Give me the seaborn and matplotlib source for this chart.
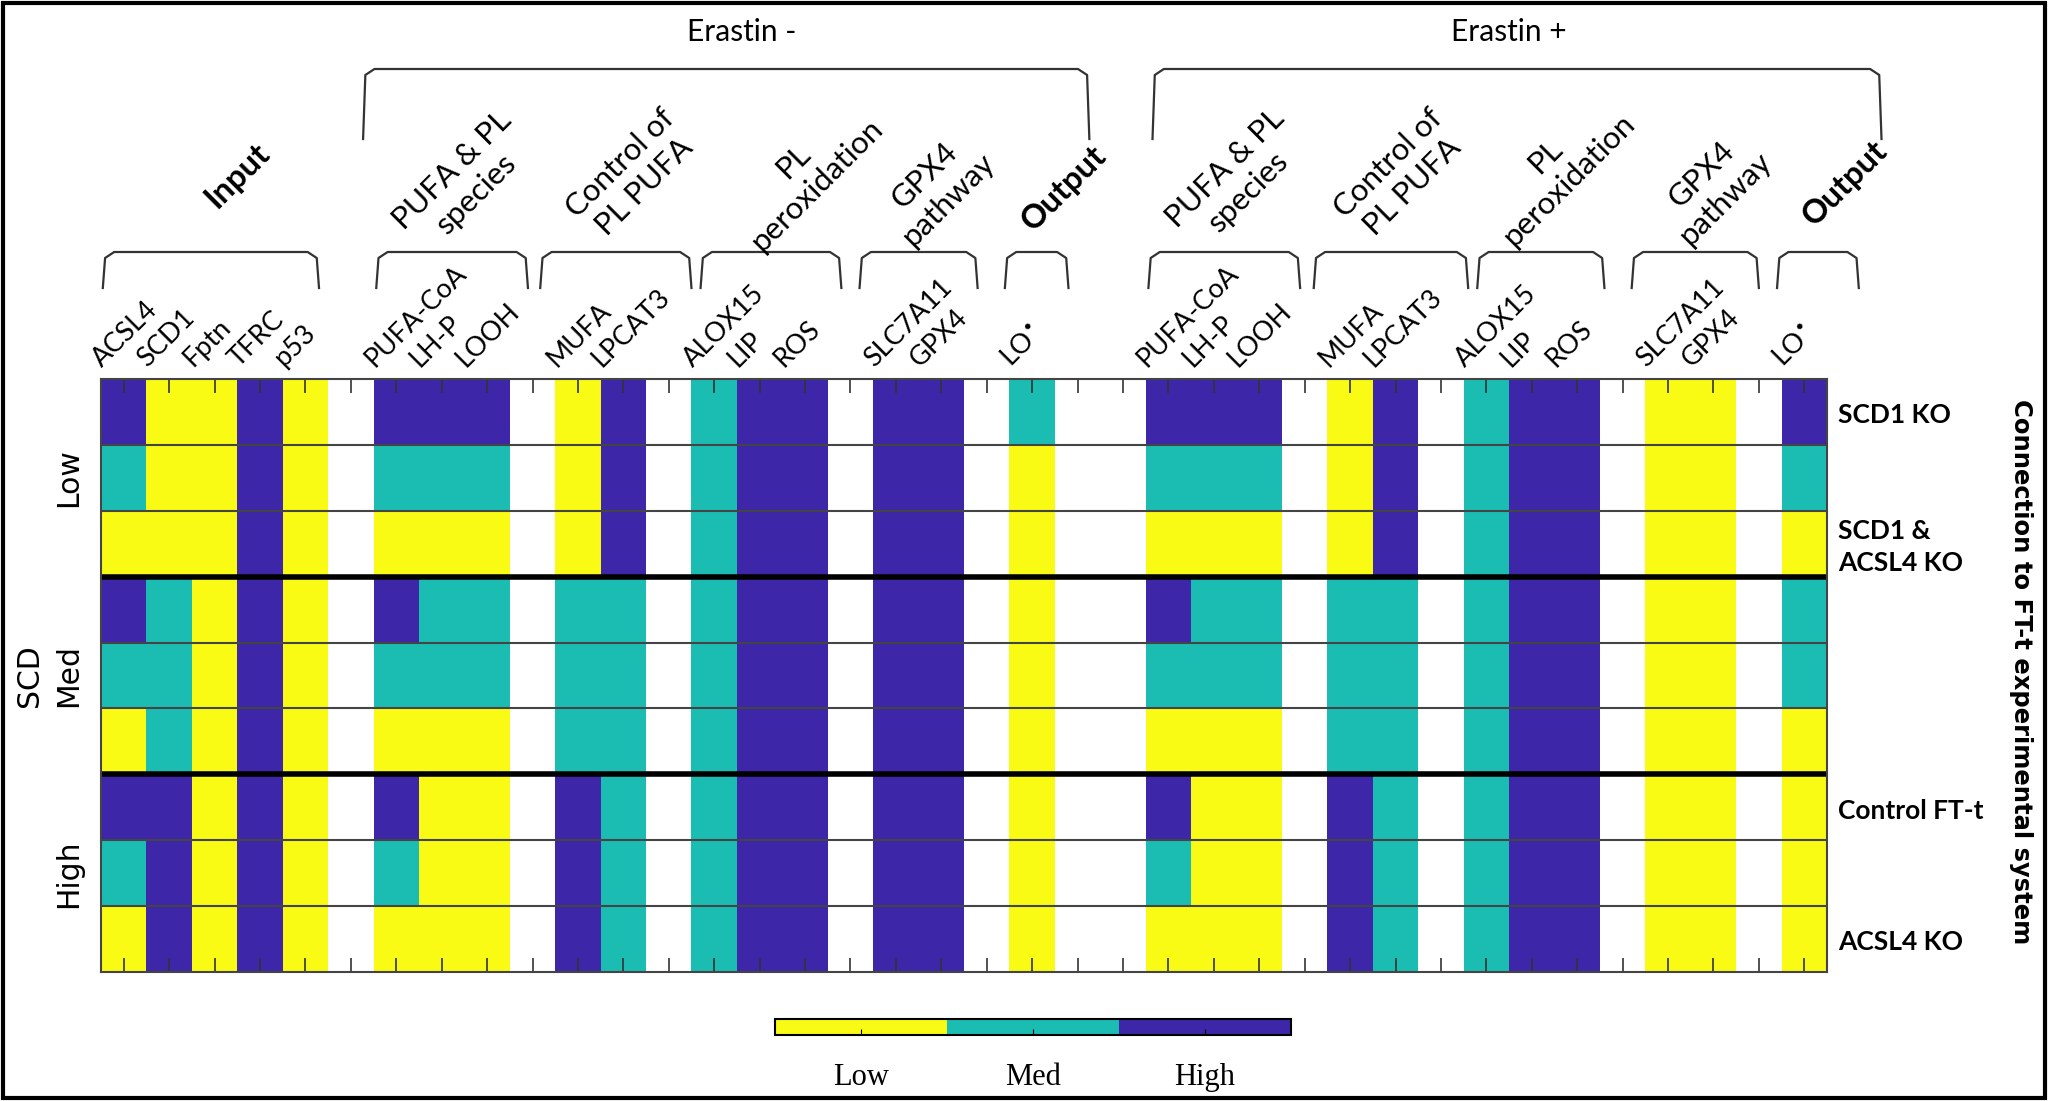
# ferroptosis_heatmap.py
# Model states per SCD level, with and without erastin, drawn as a discrete heatmap

import numpy as np
import pandas as pd
import matplotlib
matplotlib.use('Agg')
import matplotlib.pyplot as plt
import seaborn as sns
from matplotlib.colors import ListedColormap
from matplotlib.patches import Rectangle
from matplotlib.transforms import blended_transform_factory

# levels
L, M, H = 0, 1, 2
BLANK = [None] * 9

# rows: SCD Low x3, Med x3, High x3
acsl4 = [H, M, L, H, M, L, H, M, L]
scd1 = [L, L, L, M, M, M, H, H, H]
fptn = [L, L, L, L, L, L, L, L, L]
tfrc = [H, H, H, H, H, H, H, H, H]
p53 = [L, L, L, L, L, L, L, L, L]

# Erastin -
pufa_coa_minus = [H, M, L, H, M, L, H, M, L]
lhp_minus = [H, M, L, M, M, L, L, L, L]
looh_minus = [H, M, L, M, M, L, L, L, L]
mufa_minus = [L, L, L, M, M, M, H, H, H]
lpcat3_minus = [H, H, H, M, M, M, M, M, M]
alox15_minus = [M, M, M, M, M, M, M, M, M]
lip_minus = [H, H, H, H, H, H, H, H, H]
ros_minus = [H, H, H, H, H, H, H, H, H]
slc7a11_minus = [H, H, H, H, H, H, H, H, H]
gpx4_minus = [H, H, H, H, H, H, H, H, H]
lo_minus = [M, L, L, L, L, L, L, L, L]

# Erastin +
pufa_coa_plus = [H, M, L, H, M, L, H, M, L]
lhp_plus = [H, M, L, M, M, L, L, L, L]
looh_plus = [H, M, L, M, M, L, L, L, L]
mufa_plus = [L, L, L, M, M, M, H, H, H]
lpcat3_plus = [H, H, H, M, M, M, M, M, M]
alox15_plus = [M, M, M, M, M, M, M, M, M]
lip_plus = [H, H, H, H, H, H, H, H, H]
ros_plus = [H, H, H, H, H, H, H, H, H]
slc7a11_plus = [L, L, L, L, L, L, L, L, L]
gpx4_plus = [L, L, L, L, L, L, L, L, L]
lo_plus = [H, M, L, M, M, L, L, L, L]

LO = "LO$^{\\bullet}$"
col_labels = ["ACSL4", "SCD1", "Fptn", "TFRC", "p53", "",
              "PUFA-CoA", "LH-P", "LOOH", "", "MUFA", "LPCAT3", "",
              "ALOX15", "LIP", "ROS", "", "SLC7A11", "GPX4", "", LO, "", "",
              "PUFA-CoA", "LH-P", "LOOH", "", "MUFA", "LPCAT3", "",
              "ALOX15", "LIP", "ROS", "", "SLC7A11", "GPX4", "", LO]
col_values = [acsl4, scd1, fptn, tfrc, p53, BLANK,
              pufa_coa_minus, lhp_minus, looh_minus, BLANK, mufa_minus, lpcat3_minus, BLANK,
              alox15_minus, lip_minus, ros_minus, BLANK, slc7a11_minus, gpx4_minus, BLANK,
              lo_minus, BLANK, BLANK,
              pufa_coa_plus, lhp_plus, looh_plus, BLANK, mufa_plus, lpcat3_plus, BLANK,
              alox15_plus, lip_plus, ros_plus, BLANK, slc7a11_plus, gpx4_plus, BLANK, lo_plus]

scd_levels = ["Low", "Med", "High"]
right_labels = {0: "SCD1 KO", 2: "SCD1 &\nACSL4 KO", 6: "Control FT-t", 8: "ACSL4 KO"}
level_names = ["Low", "Med", "High"]
colors = ["#F9FB15", "#1BBDB3", "#3D27A8"]

# group labels: (text, bold, x centre in columns, y centre in px)
groups = [("Input", True, 3.0, 175), ("PUFA & PL\nspecies", False, 8.0, 182),
          ("Control of\nPL PUFA", False, 11.7, 175), ("PL\nperoxidation", False, 15.5, 173),
          ("GPX4\npathway", False, 18.4, 187), ("Output", True, 21.2, 188),
          ("PUFA & PL\nspecies", False, 25.0, 180), ("Control of\nPL PUFA", False, 28.6, 175),
          ("PL\nperoxidation", False, 32.05, 168), ("GPX4\npathway", False, 35.5, 186),
          ("Output", True, 38.4, 183)]
# bracket spans in column units
small_brackets = [(0.04, 4.8), (6.06, 9.4), (9.67, 13.0), (13.2, 16.3), (16.7, 19.3), (19.9, 21.3),
                  (23.06, 26.4), (26.7, 30.1), (30.3, 33.1), (33.7, 36.5), (36.9, 38.7)]
big_brackets = [("Erastin -", 5.77, 21.76, 14.1), ("Erastin +", 23.15, 39.2, 31.0)]

W, HGT = 2048, 1101


def fy(px):
    return 1 - px / HGT


def draw_bracket(ax, trans, x0, x1, y_top, y_bot, r=0.25):
    xs = [x0, x0 + 0.05, x0 + r, x1 - r, x1 - 0.05, x1]
    ys = [fy(y_bot), fy(y_top + 6), fy(y_top), fy(y_top), fy(y_top + 6), fy(y_bot)]
    ax.plot(xs, ys, color='#333333', lw=1.6, transform=trans, clip_on=False)


df = pd.DataFrame(np.array(col_values, dtype=float).T)

fig = plt.figure(figsize=(W / 100, HGT / 100), dpi=100)
ax = fig.add_axes([101 / W, (HGT - 972) / HGT, (1827 - 101) / W, (972 - 379) / HGT])
cax = fig.add_axes([775 / W, (HGT - 1035) / HGT, 516 / W, 16 / HGT])

sns.heatmap(df, ax=ax, cmap=ListedColormap(colors), vmin=0, vmax=2,
            cbar_ax=cax, cbar_kws={'orientation': 'horizontal'},
            xticklabels=False, yticklabels=False)

ax.set_xlabel('')
ax.set_ylabel('')
ncol = len(col_labels)
ax.set_xticks(np.arange(ncol) + 0.5)
ax.set_xticklabels([])
ax.set_yticks([])
ax.tick_params(axis='x', which='both', direction='in', length=10, width=1.2,
               color='#333333', top=True, bottom=True)
for sp in ax.spines.values():
    sp.set_visible(True)
    sp.set_color('#444444')
    sp.set_linewidth(1.5)

# row separators
for r in range(1, 9):
    if r in (3, 6):
        ax.axhline(r, color='black', lw=4)
    else:
        ax.axhline(r, color='#444444', lw=1.5)

# column labels on top
for i, lab in enumerate(col_labels):
    if lab:
        ax.text(i + 0.1, -0.12, lab, rotation=45, rotation_mode='anchor',
                ha='left', va='bottom', fontsize=19.5, family='Lato')

trans = blended_transform_factory(ax.transData, fig.transFigure)
for x0, x1 in small_brackets:
    draw_bracket(ax, trans, x0, x1, 252, 288)
for name, x0, x1, xc in big_brackets:
    draw_bracket(ax, trans, x0, x1, 69, 139)
    ax.text(xc, fy(32), name, transform=trans, ha='center', va='center',
            fontsize=21.5, family='Lato')

for text, bold, xc, yc in groups:
    ax.text(xc, fy(yc), text, transform=trans, rotation=45, ha='center', va='center',
            multialignment='center', fontsize=23.5 if bold else 22.5, family='Lato',
            fontweight='bold' if bold else 'normal', linespacing=1.25)

# left labels
for k, lev in enumerate(scd_levels):
    ax.text(69 / W, fy(379 + (3 * k + 1.5) * 65.9), lev, transform=fig.transFigure,
            rotation=90, ha='center', va='center', fontsize=21.5, family='DejaVu Sans')
fig.text(29 / W, fy(379 + 4.5 * 65.9), "SCD", rotation=90, ha='center', va='center',
         fontsize=21.5, family='DejaVu Sans')

# right labels
for row, lab in right_labels.items():
    ax.text(38.25, row + 0.55, lab, ha='left', va='center', fontsize=19,
            family='Lato', fontweight='bold', linespacing=1.4)
fig.text(2021 / W, fy(672), "Connection to FT-t experimental system", rotation=-90,
         ha='center', va='center', fontsize=17.5, family='DejaVu Sans', fontweight='bold')

# colour bar
cbar = ax.collections[0].colorbar
cbar.set_ticks([1 / 3, 1, 5 / 3])
cbar.set_ticklabels(level_names, fontsize=22, family='Liberation Serif')
cax.tick_params(direction='in', length=4, pad=20)
cbar.outline.set_edgecolor('black')
cbar.outline.set_linewidth(1.5)

fig.patches.append(Rectangle((0.0015, 0.003), 0.997, 0.994, transform=fig.transFigure,
                             fill=False, lw=3, edgecolor='black'))

fig.savefig('out.png', dpi=100)
